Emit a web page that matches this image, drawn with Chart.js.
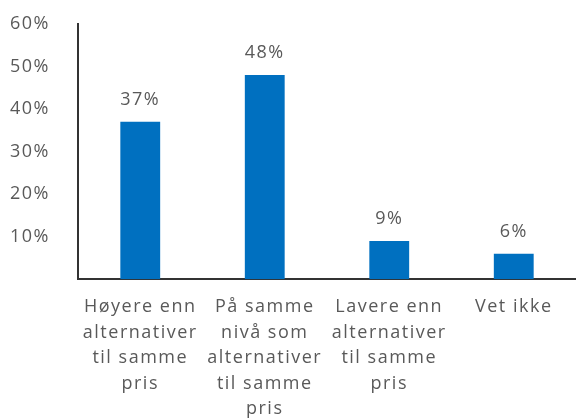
<!DOCTYPE html>
<html>
<head>
<meta charset="utf-8">
<script src="https://cdn.jsdelivr.net/npm/chart.js@4"></script>
<style>
  html, body { margin: 0; padding: 0; overflow: hidden; background: #fff; }
  #wrap { width: 576px; height: 429px; }
</style>
</head>
<body>
<div id="wrap"><canvas id="chart"></canvas></div>
<script>
const categories = [
  ["Høyere enn", "alternativer", "til samme", "pris"],
  ["På samme", "nivå som", "alternativer", "til samme", "pris"],
  ["Lavere enn", "alternativer", "til samme", "pris"],
  ["Vet ikke"]
];
const values = [37, 48, 9, 6];
const yTicks = [0, 10, 20, 30, 40, 50, 60];

const textColor = "#595959";
const fontFamily = "'Open Sans', sans-serif";
const spacing = "1.5px";

// wider letters, closer to the original typeface
const wideText = {
  id: "wideText",
  beforeLayout(chart) { chart.ctx.letterSpacing = spacing; },
  beforeDraw(chart) { chart.ctx.letterSpacing = spacing; },
};

// draws the percent label above each bar
const barLabels = {
  id: "barLabels",
  afterDatasetsDraw(chart) {
    const ctx = chart.ctx;
    const meta = chart.getDatasetMeta(0);
    ctx.save();
    ctx.fillStyle = textColor;
    ctx.font = "18px " + fontFamily;
    ctx.textAlign = "center";
    ctx.textBaseline = "bottom";
    meta.data.forEach((bar, i) => {
      ctx.fillText(values[i] + "%", bar.x, bar.y - 13);
    });
    ctx.restore();
  }
};

new Chart(document.getElementById("chart"), {
  type: "bar",
  data: {
    labels: categories,
    datasets: [
      {
        data: values,
        backgroundColor: "#0070C0",
        barPercentage: 0.32,
        categoryPercentage: 1,
      },
    ],
  },
  options: {
    responsive: true,
    maintainAspectRatio: false,
    animation: false,
    layout: { padding: { top: 24, right: 0, left: 0, bottom: 0 } },
    plugins: {
      legend: { display: false },
      tooltip: { enabled: false },
    },
    scales: {
      x: {
        grid: { display: false },
        border: { display: true, color: "#333", width: 2 },
        ticks: {
          color: textColor,
          font: { family: fontFamily, size: 18, lineHeight: 1.42 },
          maxRotation: 0,
          autoSkip: false,
          padding: 7,
        },
      },
      y: {
        min: 0,
        max: 60,
        afterBuildTicks: (axis) => {
          axis.ticks = yTicks.map((v) => ({ value: v }));
        },
        afterFit: (axis) => {
          axis.width = 78;
          axis.paddingTop = 0;
        },
        grid: { display: false },
        border: { display: true, color: "#333", width: 2 },
        ticks: {
          color: textColor,
          font: { family: fontFamily, size: 18 },
          padding: 20,
          callback: (v) => (v === 0 ? "" : v + "%"),
        },
      },
    },
  },
  plugins: [wideText, barLabels],
});
</script>
</body>
</html>
